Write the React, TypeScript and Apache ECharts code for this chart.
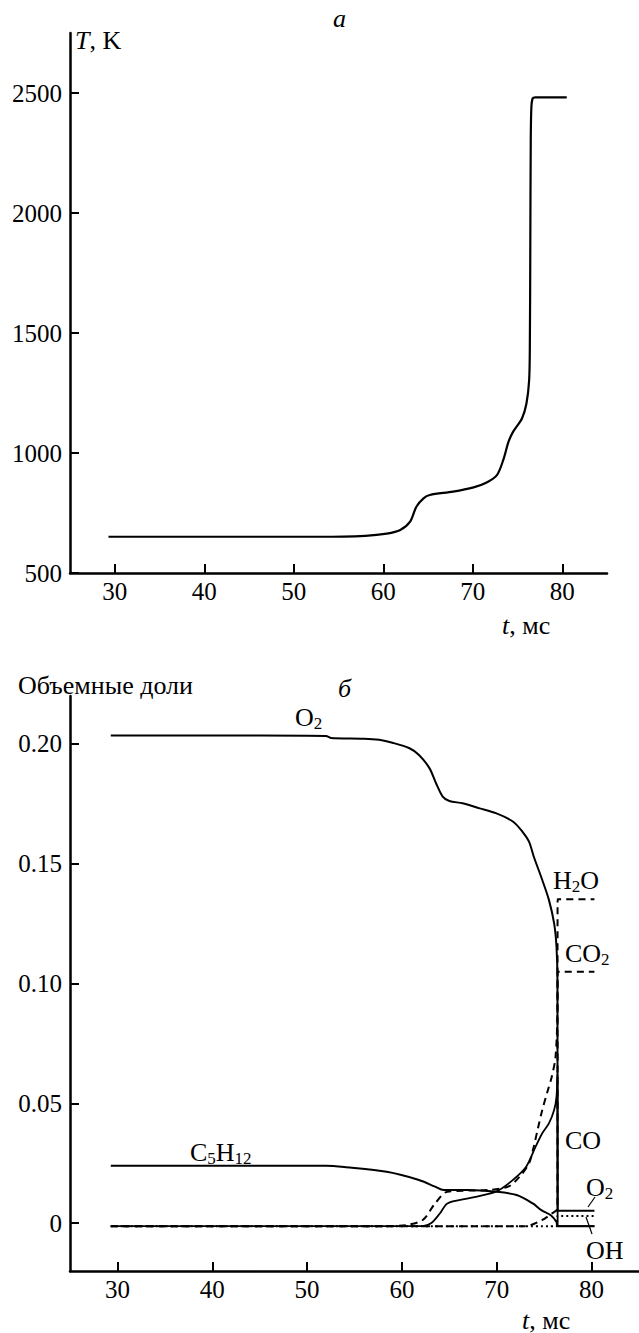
import React, { useEffect, useRef } from "react";
import * as echarts from "echarts";

const FONT = "Liberation Serif";

// Panel a: gas temperature vs time
const T_TIME = [29.3, 40, 52.9, 58, 60.4, 61.9, 63, 63.7, 64.5, 65.2, 67.8, 70.1, 71.5, 72.7, 73.4, 74, 74.5, 75.5, 76.0, 76.3, 76.38, 76.43, 76.48, 76.55, 76.7, 77, 80.5];
const T_KELVIN = [651, 651, 651, 655, 664, 679, 714, 776, 811, 825, 839, 857, 876, 908, 970, 1047, 1088, 1144, 1206, 1303, 1450, 1850, 2300, 2440, 2478, 2482, 2482];

// Panel б: volume fractions vs time
const O2_TIME = [29.3, 45, 52, 52.5, 56, 57.6, 59, 60.8, 61.8, 62.9, 63.6, 64.3, 65.0, 66.4, 68.2, 69.9, 71.7, 72.7, 73.4, 73.9, 74.8, 75.5, 76.05, 76.3, 76.4, 76.42, 76.5, 80.3];
const O2_VALUES = [0.2035, 0.2035, 0.2033, 0.2025, 0.2022, 0.2017, 0.2005, 0.1982, 0.1954, 0.1899, 0.1836, 0.178, 0.1762, 0.1752, 0.1731, 0.1711, 0.1676, 0.1634, 0.1592, 0.153, 0.1432, 0.1349, 0.1251, 0.1154, 0.1015, 0.0051, 0.0051, 0.0051];

const C5H12_TIME = [29.3, 52.0, 54.1, 58.4, 61.8, 63.5, 64.4, 67.0, 69.9, 72.1, 73.8, 74.7, 75.7, 76.3, 76.42, 80.3];
const C5H12_VALUES = [0.0239, 0.0239, 0.0233, 0.0214, 0.018, 0.0152, 0.0138, 0.0138, 0.0131, 0.0117, 0.0082, 0.0054, 0.0033, 0.0005, -0.0013, -0.0013];

const CO_TIME = [29.3, 62.2, 63.1, 64.0, 64.8, 67.0, 69.9, 71.7, 73.1, 74.1, 74.8, 75.5, 76.05, 76.3, 76.4, 76.42, 80.3];
const CO_VALUES = [-0.0013, -0.0013, 0, 0.004, 0.0082, 0.0103, 0.0131, 0.018, 0.0235, 0.0319, 0.0375, 0.0416, 0.0472, 0.0527, 0.062, -0.0013, -0.0013];

const H2O_TIME = [29.3, 58.0, 60.5, 62.2, 63.5, 64.8, 69.1, 71.2, 72.4, 73.4, 73.9, 74.3, 74.8, 75.3, 75.8, 76.2, 76.4, 76.42, 80.3];
const H2O_VALUES = [-0.0013, -0.0013, -0.0008, 0.0013, 0.0082, 0.0131, 0.0138, 0.0152, 0.0193, 0.0249, 0.0319, 0.0388, 0.0472, 0.0542, 0.0611, 0.0694, 0.09, 0.1352, 0.1352];

const CO2_TIME = [29.3, 73.0, 74.8, 75.8, 76.4, 76.42, 80.3];
const CO2_VALUES = [-0.0013, -0.0013, 0.0013, 0.004, 0.006, 0.1049, 0.1049];

const OH_TIME = [29.3, 76.3, 76.42, 80.3];
const OH_VALUES = [-0.0013, -0.0013, 0.003, 0.003];

const X_TICKS = [30, 40, 50, 60, 70, 80];
const T_TICKS = [500, 1000, 1500, 2000, 2500];
const FRACTION_TICKS = [0, 0.05, 0.1, 0.15, 0.2];

const zip = (xs: number[], ys: number[]) => xs.map((x, i) => [x, ys[i]]);

const rich = {
  n: { fontFamily: FONT, fontSize: 26, lineHeight: 30, color: "#000" },
  i: { fontFamily: FONT, fontSize: 26, lineHeight: 30, fontStyle: "italic", color: "#000" },
  s: { fontFamily: FONT, fontSize: 17, lineHeight: 17, padding: [13, 0, 0, 0], color: "#000" },
};

const label = (x: number, y: number, text: string) => ({
  type: "text",
  x,
  y,
  style: { text, rich, textAlign: "left", textVerticalAlign: "middle", fill: "#000" },
});

const tickLabel = { color: "#000", fontFamily: FONT, fontSize: 25 };

const xAxisBase = (gridIndex: number) => ({
  gridIndex,
  type: "value",
  min: 25,
  max: 85,
  axisLine: { onZero: false, lineStyle: { color: "#000", width: 2.5 } },
  axisTick: { inside: true, length: 9, customValues: X_TICKS, lineStyle: { color: "#000", width: 2 } },
  axisLabel: { ...tickLabel, customValues: X_TICKS, margin: 6, formatter: (v: number) => String(v) },
  splitLine: { show: false },
});

const lineSeries = (xi: number, data: number[][], type: any, width = 2, smooth = 0.3) => ({
  type: "line",
  xAxisIndex: xi,
  yAxisIndex: xi,
  data,
  showSymbol: false,
  smooth,
  lineStyle: { color: "#000", width, type },
  silent: true,
});

export default function App() {
  const ref = useRef<HTMLDivElement>(null);

  useEffect(() => {
    document.body.style.margin = "0";
    const chart = echarts.init(ref.current!, undefined, { renderer: "svg" });
    chart.setOption({
      animation: false,
      backgroundColor: "#fff",
      grid: [
        { left: 70, top: 33, width: 537, height: 540 },
        { left: 70, top: 696, width: 570, height: 575 },
      ],
      xAxis: [xAxisBase(0), xAxisBase(1)],
      yAxis: [
        {
          gridIndex: 0,
          type: "value",
          min: 500,
          max: 2750,
          axisLine: { show: true, onZero: false, lineStyle: { color: "#000", width: 2.5 } },
          axisTick: { show: true, inside: true, length: 9, customValues: T_TICKS, lineStyle: { color: "#000", width: 2 } },
          axisLabel: { ...tickLabel, customValues: T_TICKS, margin: 8, formatter: (v: number) => String(v) },
          splitLine: { show: false },
        },
        {
          gridIndex: 1,
          type: "value",
          min: -0.02,
          max: 0.22,
          axisLine: { show: true, onZero: false, lineStyle: { color: "#000", width: 2.5 } },
          axisTick: { show: true, inside: true, length: 9, customValues: FRACTION_TICKS, lineStyle: { color: "#000", width: 2 } },
          axisLabel: {
            ...tickLabel,
            customValues: FRACTION_TICKS,
            margin: 8,
            formatter: (v: number) => (v === 0 ? "0" : v.toFixed(2)),
          },
          splitLine: { show: false },
        },
      ],
      series: [
        lineSeries(0, zip(T_TIME, T_KELVIN), "solid", 2.2),
        lineSeries(1, zip(O2_TIME, O2_VALUES), "solid"),
        lineSeries(1, zip(C5H12_TIME, C5H12_VALUES), "solid"),
        lineSeries(1, zip(CO_TIME, CO_VALUES), "solid", 1.8),
        lineSeries(1, zip(H2O_TIME, H2O_VALUES), [7, 5]),
        lineSeries(1, zip(CO2_TIME, CO2_VALUES), [7, 5]),
        lineSeries(1, zip(OH_TIME, OH_VALUES), [2, 3]),
      ],
      graphic: [
        label(333, 18, "{i|a}"),
        label(75, 40, "{i|T}{n|, K}"),
        label(502, 625, "{i|t}{n|, мс}"),
        label(18, 685, "{n|Объемные доли}"),
        label(338, 688, "{i|б}"),
        label(295, 717, "{n|O}{s|2}"),
        label(553, 880, "{n|H}{s|2}{n|O}"),
        label(565, 953, "{n|CO}{s|2}"),
        label(565, 1140, "{n|CO}"),
        label(190, 1152, "{n|C}{s|5}{n|H}{s|12}"),
        label(586, 1187, "{n|O}{s|2}"),
        label(586, 1250, "{n|OH}"),
        label(522, 1320, "{i|t}{n|, мс}"),
        { type: "line", shape: { x1: 588, y1: 1207, x2: 595, y2: 1197 }, style: { stroke: "#000", lineWidth: 1.2 } },
        { type: "line", shape: { x1: 586, y1: 1217, x2: 592, y2: 1234 }, style: { stroke: "#000", lineWidth: 1.2 } },
      ],
    });
    return () => chart.dispose();
  }, []);

  return <div ref={ref} style={{ width: 639, height: 1333 }} />;
}
